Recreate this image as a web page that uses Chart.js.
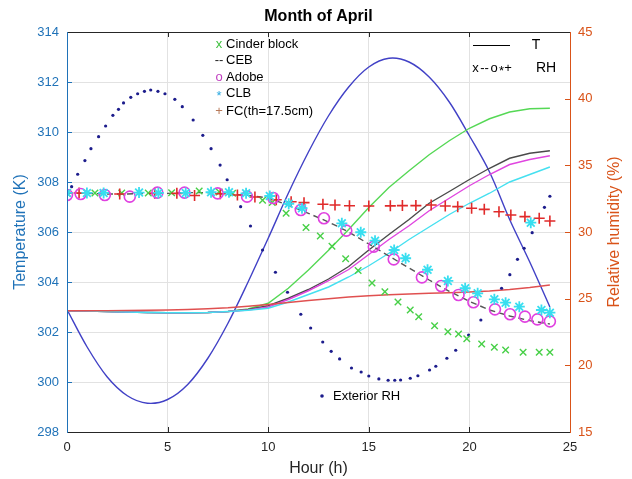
<!DOCTYPE html>
<html><head><meta charset="utf-8">
<script src="https://cdn.jsdelivr.net/npm/chart.js@4/dist/chart.umd.min.js"></script>
<style>html,body{margin:0;padding:0;background:#fff;overflow:hidden}#wrap{width:632px;height:479px}</style>
</head><body><div id="wrap"><canvas id="c" width="632" height="479"></canvas></div>
<script>
// ---------- data ----------
const hours = [0,1,2,3,4,5,6,7,8,9,10,11,12,13,14,15,16,17,18,19,20,21,22,23,24];
const extT    = [302.9,301.4,300.2,299.45,299.15,299.3,299.9,300.95,302.35,304.0,305.75,307.55,309.2,310.65,311.8,312.6,312.95,312.8,312.2,311.2,309.85,308.4,306.5,304.8,303.0];
const cinderT = [302.85,302.84,302.82,302.8,302.78,302.77,302.77,302.78,302.82,302.92,303.15,303.75,304.48,305.27,306.1,306.98,307.78,308.45,309.09,309.65,310.15,310.53,310.8,310.93,310.95];
const cebT    = [302.85,302.84,302.82,302.8,302.78,302.77,302.77,302.78,302.82,302.9,303.05,303.35,303.7,304.12,304.62,305.28,305.9,306.5,307.15,307.62,308.1,308.55,308.95,309.15,309.25];
const adobeT  = [302.85,302.84,302.82,302.8,302.78,302.77,302.77,302.78,302.82,302.88,303.0,303.3,303.65,304.05,304.5,305.1,305.7,306.25,306.85,307.35,307.85,308.3,308.7,308.9,309.05];
const clbT    = [302.85,302.84,302.82,302.8,302.78,302.77,302.77,302.78,302.82,302.87,302.95,303.2,303.5,303.8,304.2,304.65,305.15,305.7,306.2,306.7,307.15,307.55,308.0,308.3,308.6];
const fcT     = [302.85,302.85,302.85,302.86,302.87,302.88,302.9,302.93,302.97,303.03,303.1,303.18,303.26,303.33,303.4,303.45,303.49,303.52,303.55,303.57,303.6,303.64,303.7,303.78,303.88];
const cebRH   = [32.9,32.9,32.85,32.85,32.9,32.9,32.95,32.95,32.85,32.75,32.55,32.0,31.4,30.75,30.0,29.1,28.2,27.3,26.4,25.55,24.8,24.15,23.7,23.35,23.1];

const extRHh = [0,0.23,0.53,0.89,1.19,1.57,1.92,2.28,2.56,2.81,3.17,3.51,3.85,4.16,4.52,4.87,5.36,5.73,6.27,6.75,7.16,7.61,7.96,8.63,9.12,9.72,10.36,10.96,11.62,12.11,12.71,13.13,13.55,14.14,14.62,15.0,15.5,15.96,16.29,16.58,17.06,17.44,18.02,18.33,18.88,19.32,19.96,20.57,21.6,22.01,22.39,22.72,23.12,23.73,24.0];
const extRH  = [32.93,33.4,34.33,35.36,36.25,37.15,37.95,38.75,39.2,39.68,40.1,40.37,40.55,40.65,40.55,40.37,39.95,39.4,38.4,37.25,36.25,35.02,33.92,31.9,30.45,28.65,26.98,25.48,23.83,22.8,21.75,21.05,20.48,19.8,19.5,19.2,18.98,18.88,18.88,18.9,19.03,19.22,19.65,19.93,20.53,21.13,22.27,23.4,25.78,26.8,27.95,28.78,29.95,31.85,32.68];

const cinderRHh = [0,1.39,2.72,4.04,5.2,6.57,7.57,8.23,9.72,10.2,10.89,11.88,12.59,13.17,13.85,14.47,15.16,15.8,16.45,17.06,17.48,18.27,18.93,19.46,19.87,20.61,21.24,21.8,22.67,23.47,24.0];
const cinderRH  = [32.93,32.93,32.93,32.93,32.95,33.08,33.0,32.9,32.38,32.21,31.4,30.34,29.7,28.93,27.99,27.12,26.18,25.52,24.75,24.15,23.65,22.97,22.52,22.35,22.0,21.6,21.35,21.15,20.98,20.98,20.98];

const adobeRHh = [0,0.68,1.88,3.12,4.49,5.84,7.49,8.95,10.25,11.62,12.77,13.88,15.25,16.24,17.64,18.6,19.46,20.2,21.27,22.02,22.76,23.38,24.0];
const adobeRH  = [32.78,32.85,32.78,32.65,32.95,32.95,32.9,32.65,32.55,31.65,31.03,30.1,28.9,27.95,26.6,25.95,25.28,24.73,24.2,23.83,23.65,23.45,23.3];

const clbRHh = [0,0.99,1.82,3.58,4.54,5.9,7.16,8.05,8.9,10.08,11.02,11.68,13.66,14.6,15.31,16.26,16.83,17.92,18.93,19.79,20.41,21.24,21.8,22.48,23.05,23.58,24.0];
const clbRH  = [32.93,32.93,32.93,32.96,32.93,32.93,32.98,32.98,32.9,32.7,32.12,31.78,30.65,29.98,29.35,28.65,28.03,27.17,26.33,25.78,25.4,24.95,24.7,24.4,30.7,24.15,23.95];

const fcRHh = [0,0.6,2.62,4.36,5.46,6.34,7.62,8.47,9.34,10.4,11.14,11.78,12.72,13.32,14.04,15.0,16.07,16.67,17.34,18.1,18.8,19.42,20.11,20.74,21.47,22.06,22.76,23.47,24.0];
const fcRH  = [32.93,32.93,32.85,32.9,32.9,32.74,32.87,32.78,32.63,32.42,32.27,32.2,32.08,32.03,31.97,31.95,31.96,31.98,31.98,32.02,31.95,31.9,31.78,31.7,31.52,31.27,31.15,31.03,30.83];

const xTicks = [0,5,10,15,20,25];
const tTicks = [298,300,302,304,306,308,310,312,314];
const rhTicks = [15,20,25,30,35,40,45];

const titleText = 'Month of April';
const xTitle = 'Hour (h)';
const yTitle = 'Temperature (K)';
const y1Title = 'Relative humidity (%)';
const legendNames = ['Cinder block','CEB','Adobe','CLB','FC(th=17.5cm)'];

// ---------- helpers ----------
const pts = (xs, ys) => xs.map((x, i) => ({x: x, y: ys[i]}));
const FONT = '"Liberation Sans", Arial, Helvetica, sans-serif';
Chart.defaults.font.family = FONT;

const BLUE_AX = '#1f72b8', ORANGE_AX = '#d95319', DARK = '#262626';

function lineDS(data, color, order) {
  return {data: data, showLine: true, borderColor: color, borderWidth: 1.4, pointRadius: 0,
          tension: 0, fill: false, yAxisID: 'y', order: order};
}

const datasets = [
  {data: pts(hours, extT), showLine: true, borderColor: '#4141c6', borderWidth: 1.4, pointRadius: 0,
   tension: 0.35, yAxisID: 'y', order: 20},
  lineDS(pts(hours, cinderT), '#55d855', 15),
  lineDS(pts(hours, cebT), '#4a4a4a', 14),
  lineDS(pts(hours, adobeT), '#e046e0', 13),
  lineDS(pts(hours, clbT), '#45e0f0', 12),
  lineDS(pts(hours, fcT), '#e05050', 11),
  {data: pts(hours, cebRH), showLine: true, borderColor: '#555555', borderWidth: 1.4, borderDash: [6,4],
   pointRadius: 0, yAxisID: 'y1', order: 9},
  {data: pts(extRHh, extRH), showLine: false, pointRadius: 1.6, pointStyle: 'circle', pointBorderWidth: 0,
   pointBackgroundColor: '#1c1c8c', pointBorderColor: '#1c1c8c', yAxisID: 'y1', order: 8},
  {data: pts(cinderRHh, cinderRH), showLine: false, pointStyle: 'crossRot', pointRadius: 4.6,
   pointBorderColor: '#48d048', pointBorderWidth: 1.4, yAxisID: 'y1', order: 5},
  {data: pts(fcRHh, fcRH), showLine: false, pointStyle: 'cross', pointRadius: 5.5,
   pointBorderColor: '#e02a2a', pointBorderWidth: 1.6, yAxisID: 'y1', order: 4},
  {data: pts(adobeRHh, adobeRH), showLine: false, pointStyle: 'circle', pointRadius: 5.5,
   pointBorderColor: '#e040e0', pointBackgroundColor: 'rgba(0,0,0,0)', pointBorderWidth: 1.6, yAxisID: 'y1', order: 3},
  {data: pts(clbRHh, clbRH), showLine: false, pointStyle: 'star', pointRadius: 5.5,
   pointBorderColor: '#38def0', pointBorderWidth: 1.8, yAxisID: 'y1', order: 2}
];

const decor = {
  id: 'decor',
  afterDraw(chart) {
    const ctx = chart.ctx, a = chart.chartArea, sx = chart.scales.x, sy = chart.scales.y, sy1 = chart.scales.y1;
    ctx.save();
    ctx.lineWidth = 1;
    ctx.strokeStyle = DARK;
    xTicks.forEach(v => {
      const px = Math.round(sx.getPixelForValue(v)) + 0.5;
      ctx.beginPath(); ctx.moveTo(px, a.bottom); ctx.lineTo(px, a.bottom - 5); ctx.stroke();
      ctx.beginPath(); ctx.moveTo(px, a.top); ctx.lineTo(px, a.top + 5); ctx.stroke();
    });
    ctx.strokeStyle = BLUE_AX;
    tTicks.forEach(v => {
      const py = Math.round(sy.getPixelForValue(v)) + 0.5;
      ctx.beginPath(); ctx.moveTo(a.left, py); ctx.lineTo(a.left + 5, py); ctx.stroke();
    });
    ctx.strokeStyle = ORANGE_AX;
    rhTicks.forEach(v => {
      const py = Math.round(sy1.getPixelForValue(v)) + 0.5;
      ctx.beginPath(); ctx.moveTo(a.right, py); ctx.lineTo(a.right - 5, py); ctx.stroke();
    });
    ctx.strokeStyle = DARK;
    ctx.beginPath(); ctx.moveTo(a.left, a.top + 0.5); ctx.lineTo(a.right, a.top + 0.5); ctx.stroke();
    ctx.beginPath(); ctx.moveTo(a.left, a.bottom + 0.5); ctx.lineTo(a.right, a.bottom + 0.5); ctx.stroke();
    ctx.strokeStyle = BLUE_AX;
    ctx.beginPath(); ctx.moveTo(a.left + 0.5, a.top); ctx.lineTo(a.left + 0.5, a.bottom + 1); ctx.stroke();
    ctx.strokeStyle = ORANGE_AX;
    ctx.beginPath(); ctx.moveTo(a.right + 0.5, a.top); ctx.lineTo(a.right + 0.5, a.bottom + 1); ctx.stroke();

    ctx.fillStyle = '#000';
    ctx.font = 'bold 16px ' + FONT;
    ctx.textAlign = 'center'; ctx.textBaseline = 'middle';
    ctx.fillText(titleText, (a.left + a.right) / 2, 17);

    ctx.save();
    ctx.translate(615, (a.top + a.bottom) / 2);
    ctx.rotate(-Math.PI / 2);
    ctx.fillStyle = ORANGE_AX;
    ctx.font = '16px ' + FONT;
    ctx.fillText(y1Title, 0, 0);
    ctx.restore();

    ctx.font = '13px ' + FONT;
    ctx.textBaseline = 'middle';
    const rows = [44, 60.5, 77.5, 93.5, 111];
    const syms = ['x', '--', 'o', '*', '+'];
    const symCols = ['#3fc03f', '#222222', '#c040c0', '#2aa8e0', '#b87a5a'];
    rows.forEach((y, i) => {
      ctx.textAlign = 'center';
      ctx.fillStyle = symCols[i];
      ctx.fillText(syms[i], 219, y + (i === 3 ? 3 : 0));
      ctx.textAlign = 'left';
      ctx.fillStyle = '#000';
      ctx.fillText(legendNames[i], 226, y);
    });

    ctx.strokeStyle = '#000'; ctx.lineWidth = 1;
    ctx.beginPath(); ctx.moveTo(473, 45.5); ctx.lineTo(510, 45.5); ctx.stroke();
    ctx.fillStyle = '#000';
    ctx.textAlign = 'center';
    ctx.font = '14px ' + FONT;
    ctx.fillText('T', 536, 45);
    ctx.font = '13px ' + FONT;
    [['x', 475.5, 0], ['--', 484.5, 0], ['o', 494, 0], ['*', 501.5, 3], ['+', 508, 0]].forEach(s => {
      ctx.fillText(s[0], s[1], 68 + s[2]);
    });
    ctx.font = '14px ' + FONT;
    ctx.textAlign = 'left';
    ctx.fillText('RH', 536, 68);

    ctx.fillStyle = '#1c1c8c';
    ctx.beginPath(); ctx.arc(322, 396, 1.8, 0, Math.PI * 2); ctx.fill();
    ctx.fillStyle = '#000';
    ctx.font = '13px ' + FONT;
    ctx.textAlign = 'left';
    ctx.fillText('Exterior RH', 333, 396);
    ctx.restore();
  }
};

new Chart(document.getElementById('c'), {
  type: 'scatter',
  data: {datasets: datasets},
  plugins: [decor],
  options: {
    responsive: false, animation: false, devicePixelRatio: 1,
    layout: {padding: {top: 32, left: 0, right: 0, bottom: 0}},
    plugins: {legend: {display: false}, tooltip: {enabled: false}, title: {display: false}},
    scales: {
      x: {
        type: 'linear', min: 0, max: 25,
        afterBuildTicks: s => { s.ticks = xTicks.map(v => ({value: v})); },
        afterFit: s => { s.height = 47; },
        grid: {color: '#e2e2e2', drawTicks: false},
        border: {display: false},
        ticks: {color: DARK, font: {size: 13}, padding: 8},
        title: {display: true, text: xTitle, color: DARK, font: {size: 16}, padding: {top: 0, bottom: 1}}
      },
      y: {
        type: 'linear', position: 'left', min: 298, max: 314,
        afterBuildTicks: s => { s.ticks = tTicks.map(v => ({value: v})); },
        afterFit: s => { s.width = 67; },
        grid: {color: '#e2e2e2', drawTicks: false},
        border: {display: false},
        ticks: {color: BLUE_AX, font: {size: 13}, padding: 8},
        title: {display: true, text: yTitle, color: BLUE_AX, font: {size: 16}, padding: {top: 11, bottom: 0}}
      },
      y1: {
        type: 'linear', position: 'right', min: 15, max: 45,
        afterBuildTicks: s => { s.ticks = rhTicks.map(v => ({value: v})); },
        afterFit: s => { s.width = 62; },
        grid: {display: false, drawTicks: false},
        border: {display: false},
        ticks: {color: ORANGE_AX, font: {size: 13}, padding: 8}
      }
    }
  }
});
</script>
</body></html>
